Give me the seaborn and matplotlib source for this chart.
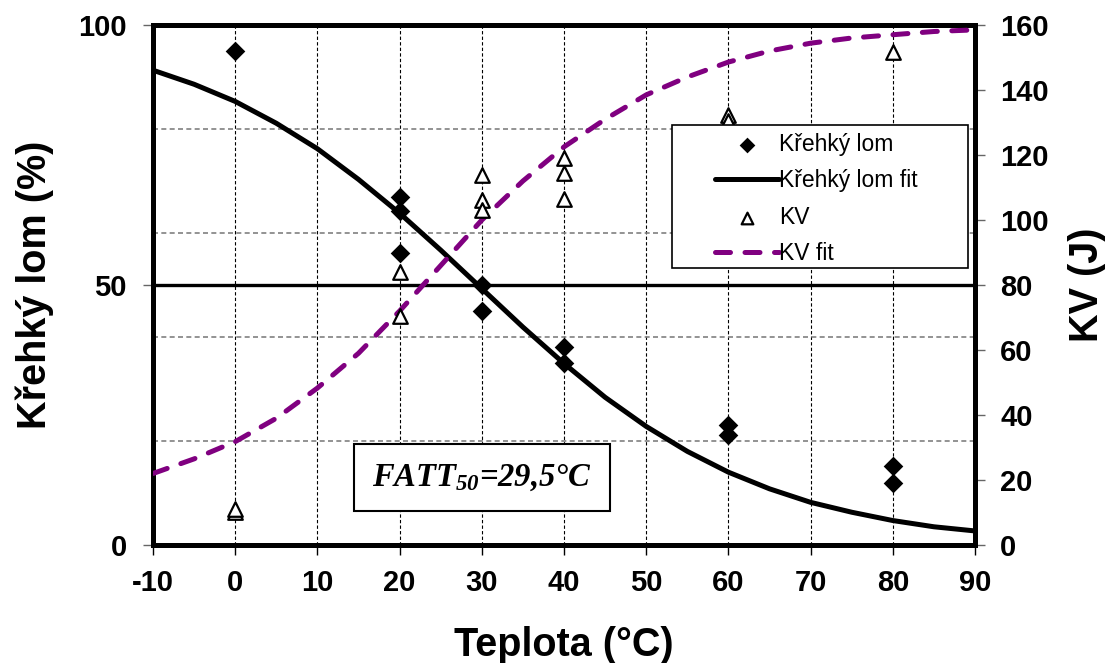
import seaborn as sns
import matplotlib.pyplot as plt
from matplotlib.ticker import FixedLocator
from matplotlib.patches import Rectangle

# naměřená data - křehký lom (%)
temp_brittle = [0, 20, 20, 20, 30, 30, 40, 40, 60, 60, 80, 80]
brittle = [95, 67, 64.3, 56.2, 50, 45, 38.1, 35, 23.1, 21.2, 15.1, 12]

# nárazová práce KV (J)
temp_kv = [0, 0, 20, 20, 30, 30, 30, 40, 40, 40, 60, 60, 80]
kv = [10, 11, 84, 70.4, 113.8, 106, 103, 119, 114.5, 106.5, 132.3, 130.5, 151.7]

# proložené křivky (odečteno z grafu po 5 °C)
temp_fit = [-10, -5, 0, 5, 10, 15, 20, 25, 30, 35, 40, 45, 50, 55, 60, 65, 70, 75, 80, 85, 90]
brittle_fit = [91.3, 88.6, 85.3, 81.1, 76.2, 70.3, 63.8, 56.7, 49.3, 41.9, 34.9,
               28.4, 22.8, 18.0, 14.0, 10.8, 8.2, 6.3, 4.7, 3.5, 2.7]
kv_fit = [22, 26.5, 31.8, 39, 48.3, 59, 72, 86, 100, 112, 122.5,
          131, 138.5, 144, 148.6, 152, 154.4, 156, 157, 158, 158.5]

level_50 = 50
fatt_text = r"$FATT_{50}$=29,5°C"

sns.set_style("white")
plt.rcParams["font.family"] = ["Liberation Sans", "DejaVu Sans"]
plt.rcParams["text.color"] = "black"
plt.rcParams["axes.labelcolor"] = "black"
plt.rcParams["xtick.color"] = "black"
plt.rcParams["ytick.color"] = "black"
plt.rcParams["axes.unicode_minus"] = False
plt.rcParams["mathtext.fontset"] = "custom"
plt.rcParams["mathtext.it"] = "Liberation Serif:italic:bold"
plt.rcParams["mathtext.rm"] = "Liberation Serif:italic:bold"

fig = plt.figure(figsize=(11.09, 6.63), dpi=100)
ax = fig.add_axes([0.138, 0.178, 0.7412, 0.7843])
ax2 = ax.twinx()

# mřížka
ax.set_axisbelow(True)
ax.xaxis.grid(True, which="major", color="black", ls=(0, (3, 2)), lw=0.8)
ax.yaxis.set_minor_locator(FixedLocator([20, 40, 60, 80]))
ax.yaxis.grid(True, which="minor", color="#808080", ls=(0, (3, 2)), lw=1.2)
ax.yaxis.grid(False, which="major")

ax.axhline(level_50, color="black", lw=2.4, zorder=2)

sns.lineplot(x=temp_fit, y=brittle_fit, ax=ax, color="black", lw=3.6,
             label="Křehký lom fit", zorder=3)
sns.scatterplot(x=temp_brittle, y=brittle, ax=ax, marker="D", s=100,
                color="black", edgecolor="black", linewidth=0,
                label="Křehký lom", zorder=4)

sns.scatterplot(x=temp_kv, y=kv, ax=ax2, marker="^", s=110, color="white",
                edgecolor="black", linewidth=1.6, label="KV", zorder=4)
sns.lineplot(x=temp_fit, y=kv_fit, ax=ax2, color="#800080", lw=3.6,
             label="KV fit", zorder=3)
kv_line = ax2.lines[-1]
kv_line.set_dashes((3.0, 2.9))
kv_line.set_dash_capstyle("round")

for a in (ax, ax2):
    if a.get_legend() is not None:
        a.get_legend().remove()

ax.set_xlim(-10, 90)
ax.set_ylim(0, 100)
ax2.set_ylim(0, 160)
ax.set_xticks(range(-10, 91, 10))
ax.set_yticks([0, 50, 100])
ax2.set_yticks(range(0, 161, 20))

ax.tick_params(axis="x", which="major", bottom=True, length=7, width=1,
               color="black", pad=10, labelsize=21)
ax.tick_params(axis="y", which="major", left=True, length=7, width=1,
               color="#666666", pad=12, labelsize=21)
ax.tick_params(axis="y", which="minor", length=0)
ax2.tick_params(axis="y", right=True, length=7, width=1, color="#666666",
                pad=11, labelsize=21)
for lab in ax.get_xticklabels() + ax.get_yticklabels() + ax2.get_yticklabels():
    lab.set_fontweight("bold")
    lab.set_color("black")

for a in (ax, ax2):
    for sp in a.spines.values():
        sp.set_visible(True)
        sp.set_color("black")
        sp.set_linewidth(3.6)

ax.set_xlabel("Teplota (°C)", fontsize=28.5, fontweight="bold")
ax.set_ylabel("Křehký lom (%)", fontsize=28.5, fontweight="bold")
ax2.set_ylabel("KV (J)", fontsize=28.5, fontweight="bold")
ax.xaxis.set_label_coords(0.5, -0.156)
ax.yaxis.set_label_coords(-0.121, 0.5)
ax2.yaxis.set_label_coords(1.113, 0.5)

ax.text(0.4, 0.13, fatt_text, transform=ax.transAxes, ha="center", va="center",
        fontsize=23.5, family="Liberation Serif", style="italic", weight="bold",
        bbox=dict(boxstyle="square,pad=0.55", fc="white", ec="black", lw=1.5),
        zorder=5)

# legenda
ax2.add_patch(Rectangle((672 / 1109, 1 - 268 / 663), 296 / 1109, 143 / 663,
                        transform=fig.transFigure, fc="white", ec="black",
                        lw=1.2, zorder=6, clip_on=False))
h1, l1 = ax.get_legend_handles_labels()
h2, l2 = ax2.get_legend_handles_labels()
handles = [h1[1], h1[0], h2[0], h2[1]]
labels = [l1[1], l1[0], l2[0], l2[1]]
leg = ax2.legend(handles, labels, loc="upper left",
                 bbox_to_anchor=(715 / 1109, 1 - 133 / 663),
                 bbox_transform=fig.transFigure, frameon=False, fontsize=16.5,
                 handlelength=2.8, handletextpad=0.0, labelspacing=0.58,
                 borderpad=0, borderaxespad=0, markerscale=0.8)
leg.set_zorder(7)

fig.savefig("out.png", dpi=100)
